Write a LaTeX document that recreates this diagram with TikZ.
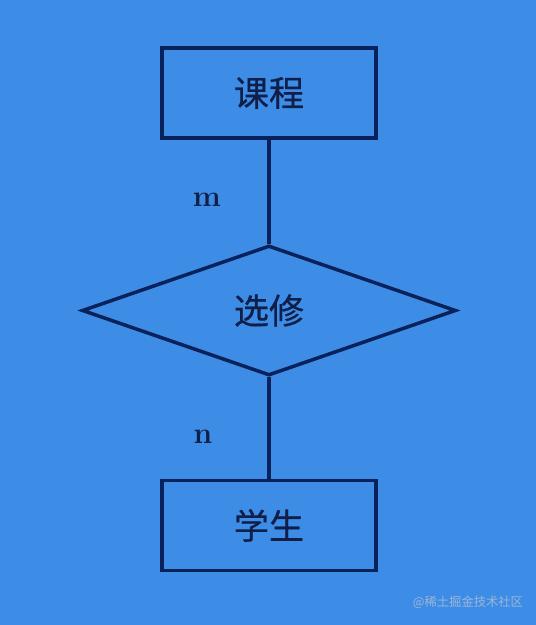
\documentclass[tikz,border=0pt]{standalone}
\usepackage{fontspec}
\newfontfamily\cjk[FakeBold=0.6]{Noto Sans CJK SC}
\newfontfamily\cjkthin{Noto Sans CJK SC}
\usepackage{tikz}
\usetikzlibrary{shapes,arrows}
\usetikzlibrary{shapes.geometric}
\usetikzlibrary{positioning}
\definecolor{bgblue}{HTML}{3D8DE6}
\definecolor{linenavy}{HTML}{0A225C}
\definecolor{textnavy}{HTML}{0F1F4A}
\definecolor{markgray}{HTML}{9DB6D8}
\tikzstyle{entity} = [draw=linenavy, line width=2pt, rectangle,
    minimum height=1.8cm, minimum width=4.28cm, text=textnavy, font=\cjk\fontsize{20}{24}\selectfont]
\tikzstyle{relation} = [draw=linenavy, line width=2pt, diamond, inner sep=0pt,
    minimum height=2.6cm, minimum width=7.48cm, text=textnavy, font=\cjk\fontsize{20}{24}\selectfont]
\tikzstyle{card} = [text=textnavy, font=\bfseries\fontsize{17}{20}\selectfont]
\begin{document}
\begin{tikzpicture}[auto, node distance=4.35cm]
    % background and frame of the picture
    \fill [bgblue] (0,0) rectangle (10.72,-12.5);
    \useasboundingbox (0,0) rectangle (10.72,-12.5);
    % We start by placing the blocks
    \node [entity] at (5.38,-1.86) (course) {课程};
    \node [relation, below of=course] (select) {选修};
    \node [entity, below of=select, node distance=4.3cm] (student) {学生};

    \draw [draw=linenavy, line width=2pt] (course) -- (select);
    \draw [draw=linenavy, line width=2pt] (select) -- (student);

    \node [card] at (4.14,-4.0) (m) {m};
    \node [card] at (4.06,-8.74) (n) {n};
    \node [text=markgray, font=\cjkthin\fontsize{7}{8}\selectfont] at (9.36,-12.04) (mark) {@稀土掘金技术社区};
\end{tikzpicture}
\end{document}
